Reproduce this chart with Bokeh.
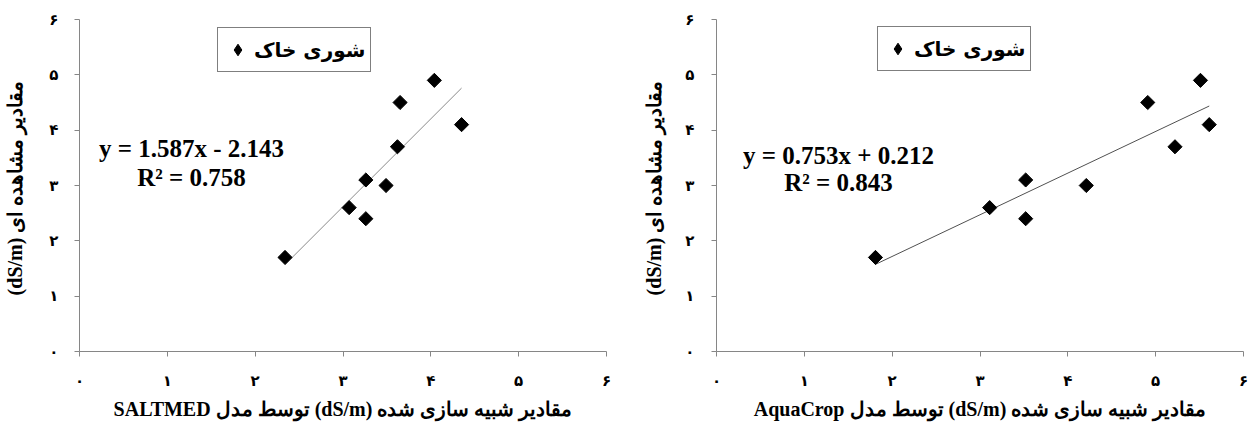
import numpy as np
from bokeh.plotting import figure
from bokeh.layouts import row
from bokeh.models import Label, Legend, LegendItem, Range1d, FixedTicker
from bokeh.embed import file_html
from bokeh.resources import INLINE

# ---- data ----
observed = [1.7, 2.6, 3.1, 2.4, 3.0, 3.7, 4.5, 4.9, 4.1]
saltmed_sim = [2.34, 3.07, 3.26, 3.26, 3.49, 3.62, 3.65, 4.04, 4.35]
aquacrop_sim = [1.81, 3.11, 3.52, 3.52, 4.21, 5.22, 4.91, 5.51, 5.61]

saltmed_fit = (1.587, -2.143)
aquacrop_fit = (0.753, 0.212)
saltmed_eq = ["y = 1.587x - 2.143", "R\u00b2 = 0.758"]
aquacrop_eq = ["y = 0.753x + 0.212", "R\u00b2 = 0.843"]

tick_values = [0, 1, 2, 3, 4, 5, 6]
tick_labels = ["۰", "۱", "۲", "۳", "۴", "۵", "۶"]

legend_label = "شوری خاک"
RLE, PDF = "\u202b", "\u202c"
y_label = RLE + "مقادیر مشاهده ای  (dS/m)" + PDF
x_label_saltmed = RLE + "مقادیر شبیه سازی شده (dS/m) توسط مدل SALTMED" + PDF
x_label_aquacrop = RLE + "مقادیر شبیه سازی شده (dS/m) توسط مدل AquaCrop" + PDF

AXIS_GRAY = "#868686"
SERIF = "Liberation Serif"


def make(sim, fit, eq, xlabel, width, bl, br, bt, eq_pos, leg_loc, ystand, ylabstand, line_col):
    p = figure(width=width, height=425, x_range=Range1d(0, 6), y_range=Range1d(0, 6),
               output_backend="svg", toolbar_location=None,
               min_border_left=bl, min_border_right=br, min_border_top=bt,
               min_border_bottom=74)
    p.xgrid.visible = False
    p.ygrid.visible = False
    p.outline_line_color = None
    p.background_fill_color = "white"
    p.border_fill_color = "white"

    for ax in (p.xaxis[0], p.yaxis[0]):
        ax.ticker = FixedTicker(ticks=tick_values)
        ax.major_label_overrides = {v: l for v, l in zip(tick_values, tick_labels)}
        ax.axis_line_color = AXIS_GRAY
        ax.major_tick_line_color = AXIS_GRAY
        ax.minor_tick_line_color = None
        ax.major_tick_in = 0
        ax.major_tick_out = 5
        ax.major_label_text_font = "DejaVu Sans"
        ax.major_label_text_font_size = "15px"
        ax.major_label_text_font_style = "bold"
        ax.major_label_text_color = "black"
        ax.axis_label_text_font = SERIF
        ax.axis_label_text_font_style = "bold"
        ax.axis_label_text_font_size = "20px"
        ax.axis_label_text_color = "black"

    p.xaxis.axis_label = xlabel
    p.xaxis.major_label_standoff = 15
    p.xaxis.axis_label_standoff = 5
    p.yaxis.axis_label = y_label
    p.yaxis.major_label_standoff = ystand
    p.yaxis.axis_label_standoff = ylabstand

    xs = [min(sim), max(sim)]
    p.line(xs, [fit[0] * x + fit[1] for x in xs], line_color=line_col, line_width=1)
    # legend swatch (diamond symbol), hidden beneath the first data marker
    swatch = p.scatter(sim[:1], observed[:1], marker="diamond", size=2,
                       fill_color="black", line_color="black")
    p.scatter(sim, observed, marker="square", angle=np.pi / 4, size=10,
              fill_color="black", line_color="black")

    for txt, yy in ((eq[0], eq_pos[1]), (eq[1], eq_pos[2])):
        p.add_layout(Label(x=eq_pos[0], y=yy, text=txt, text_align="center",
                           text_baseline="middle", text_font=SERIF, text_font_style="bold",
                           text_font_size="25px", text_color="black"))

    legend = Legend(items=[LegendItem(label=legend_label, renderers=[swatch])], location=leg_loc,
                    border_line_color="black", border_line_width=1,
                    background_fill_color="white", background_fill_alpha=1,
                    label_text_font="DejaVu Sans", label_text_font_style="bold",
                    label_text_font_size="20px", label_text_color="black",
                    label_height=33, glyph_height=29,
                    glyph_width=29, padding=5, label_standoff=2, margin=0)
    p.add_layout(legend)
    return p


p1 = make(saltmed_sim, saltmed_fit, saltmed_eq, x_label_saltmed, 626, 79, 20, 18,
          (1.276, 3.66, 3.14), (138, 279), 16, 20, "#8a8a8a")
p2 = make(aquacrop_sim, aquacrop_fit, aquacrop_eq, x_label_aquacrop, 626, 90, 9, 19,
          (1.39, 3.55, 3.05), (161, 280), 17, 17, "#505050")

layout = row(p1, p2, spacing=0)
open("out.html", "w").write(file_html(layout, INLINE))
